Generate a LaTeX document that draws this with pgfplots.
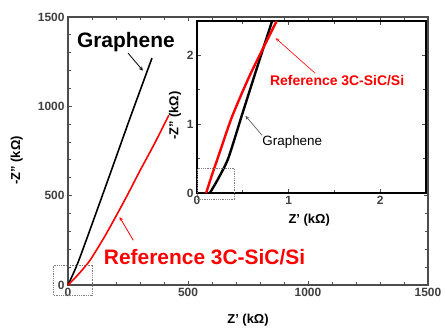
\documentclass[border=0pt]{standalone}
\usepackage{fontspec}
\setmainfont{Liberation Sans}
\usepackage{pgfplots}
\pgfplotsset{compat=1.18}
\begin{document}
\begin{tikzpicture}
\useasboundingbox (-68bp,-44bp) rectangle (377bp,285bp);
\begin{axis}[
  at={(0,0)}, anchor=south west,
  scale only axis, width=360bp, height=268bp,
  xmin=0, xmax=1500, ymin=0, ymax=1500,
  xtick={0,500,1000,1500}, ytick={0,500,1000,1500},
  minor xtick={100,200,...,1400}, minor ytick={100,200,...,1400},
  tick align=inside,
  major tick length=4bp, minor tick length=3bp,
  axis line style={black!70, line width=1.2pt},
  every tick/.style={black!70, line width=0.9pt},
  /pgf/number format/assume math mode=true,
  /pgf/number format/1000 sep={},
  ticklabel style={font=\bfseries\fontsize{12}{13}\selectfont, text=black!75},
  xlabel={Z' (kΩ)}, ylabel={-Z'' (kΩ)},
  label style={font=\bfseries\fontsize{13}{14}\selectfont},
  xlabel style={at={(axis description cs:0.5,-0.13)}, anchor=center},
  ylabel style={at={(axis description cs:-0.142,0.465)}, anchor=center},
  clip=false,
]
\addplot[black, line width=1.6pt, smooth, tension=0.4] coordinates {(0,0) (40,120) (100,340) (175,620) (260,940) (350,1270)};
\addplot[red, line width=1.6pt, smooth, tension=0.4] coordinates {(0,0) (40,55) (90,135) (150,265) (200,385) (250,510) (300,640) (360,790) (420,950)};
\draw[black!50, densely dotted, line width=0.8pt] (axis cs:-62,-56) rectangle (axis cs:100,112);
\node[font=\bfseries\fontsize{21}{23}\selectfont] at (axis cs:241,1360) {Graphene};
\draw[black, line width=0.8pt, -stealth] (axis cs:250,1298) -- (axis cs:312,1200);
\node[font=\bfseries\fontsize{21}{23}\selectfont, text=red] at (axis cs:569,157) {Reference 3C-SiC/Si};
\draw[red, line width=0.8pt, -stealth] (axis cs:272,250) -- (axis cs:215,380);
\end{axis}
\begin{axis}[
  at={(129bp,92bp)}, anchor=south west,
  scale only axis, width=229bp, height=172bp,
  xmin=0, xmax=2.5, ymin=0, ymax=2.5,
  xtick={0,1,2}, ytick={0,1,2},
  minor xtick={0.5,1.5}, minor ytick={0.5,1.5},
  tick align=inside,
  major tick length=4bp, minor tick length=3bp,
  axis line style={black, line width=1.8pt},
  every tick/.style={black!70, line width=0.9pt},
  axis background/.style={fill=white},
  /pgf/number format/assume math mode=true,
  ticklabel style={font=\bfseries\fontsize{12}{13}\selectfont, text=black!75},
  xlabel={Z' (kΩ)}, ylabel={-Z'' (kΩ)},
  label style={font=\bfseries\fontsize{13}{14}\selectfont},
  xlabel style={at={(axis description cs:0.49,-0.157)}, anchor=center},
  ylabel style={at={(axis description cs:-0.096,0.45)}, anchor=center},
  clip=false,
]
\addplot[black, line width=2.4pt, smooth, tension=0.4] coordinates {(0.14,0) (0.22,0.18) (0.34,0.5) (0.49,1.13) (0.65,1.8) (0.82,2.5)};
\addplot[red, line width=2.4pt, smooth, tension=0.4] coordinates {(0.10,0) (0.16,0.25) (0.23,0.52) (0.38,1.1) (0.58,1.72) (0.87,2.5)};
\draw[black!50, densely dotted, line width=0.8pt] (axis cs:0,-0.1) rectangle (axis cs:0.41,0.36);
\node[font=\bfseries\fontsize{14}{15}\selectfont, text=red] at (axis cs:1.53,1.64) {Reference 3C-SiC/Si};
\draw[red, line width=0.6pt, -stealth] (axis cs:1.29,1.74) -- (axis cs:0.86,2.25);
\node[font=\fontsize{13.5}{15}\selectfont] at (axis cs:1.04,0.74) {Graphene};
\draw[black!70, line width=0.6pt, -stealth] (axis cs:0.71,0.84) -- (axis cs:0.53,1.12);
\end{axis}
\end{tikzpicture}
\end{document}
